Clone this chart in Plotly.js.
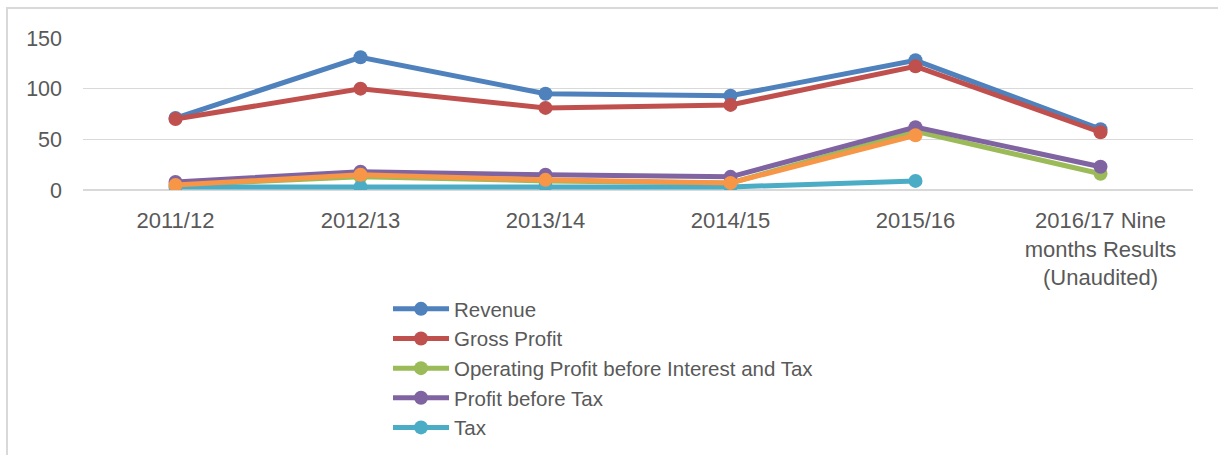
<!DOCTYPE html>
<html>
<head>
<meta charset="utf-8">
<script src="https://cdn.plot.ly/plotly-3.0.1.min.js"></script>
<style>html,body{margin:0;padding:0;background:#fff;}#chart{width:1218px;height:455px;}</style>
</head>
<body>
<div id="chart"></div>
<script>
var categories = ["2011/12", "2012/13", "2013/14", "2014/15", "2015/16", "2016/17 Nine<br>months Results<br>(Unaudited)"];
var revenue = [71, 131, 95, 93, 128, 60];
var grossProfit = [70, 100, 81, 84, 122, 57];
var operatingProfit = [5, 13, 9, 7, 58, 16];
var profitBeforeTax = [8, 18, 15, 13, 62, 23];
var tax = [3, 3, 4, 3, 9, null];
var profitAfterTax = [5, 15, 10, 7, 54, null];

var seriesNames = ["Revenue", "Gross Profit", "Operating Profit before Interest and Tax", "Profit before Tax", "Tax", "Profit after Tax"];
var seriesColors = ["#4F81BD", "#C0504D", "#9BBB59", "#8064A2", "#4BACC6", "#F79646"];
var seriesData = [revenue, grossProfit, operatingProfit, profitBeforeTax, tax, profitAfterTax];

var traces = seriesData.map(function (vals, i) {
  return {
    type: "scatter",
    mode: "lines+markers",
    x: categories,
    y: vals,
    name: seriesNames[i],
    showlegend: i < 5,
    line: {color: seriesColors[i], width: 5},
    marker: {color: seriesColors[i], size: 14},
    connectgaps: false
  };
});

var L = 83, R = 1193, T = 38, B = 190;
function px(x) { return (x - L) / (R - L); }
function py(y) { return (B - y) / (B - T); }

var layout = {
  width: 1218,
  height: 455,
  margin: {l: L, r: 1218 - R, t: T, b: 455 - B, pad: 0, autoexpand: false},
  paper_bgcolor: "#ffffff",
  plot_bgcolor: "#ffffff",
  font: {family: "Liberation Sans, Arial, sans-serif", size: 22, color: "#595959"},
  showlegend: true,
  xaxis: {
    type: "category",
    range: [-0.5, categories.length - 0.5],
    automargin: false,
    showgrid: false,
    showline: false,
    zeroline: false,
    ticks: "",
    tickfont: {size: 22, color: "#595959"},
    ticklabelstandoff: 15,
    fixedrange: true
  },
  yaxis: {
    range: [0, 150],
    automargin: false,
    dtick: 50,
    tick0: 0,
    showgrid: true,
    gridcolor: "#D9D9D9",
    gridwidth: 1.5,
    zeroline: true,
    zerolinecolor: "#D9D9D9",
    zerolinewidth: 1.5,
    showline: false,
    ticks: "",
    tickfont: {size: 21.5, color: "#595959"},
    ticklabelstandoff: 20,
    fixedrange: true
  },
  legend: {
    x: px(388),
    y: py(289),
    xanchor: "left",
    yanchor: "top",
    orientation: "v",
    traceorder: "normal",
    font: {size: 20.5, color: "#595959"},
    itemwidth: 56,
    bgcolor: "rgba(0,0,0,0)",
    tracegroupgap: 0
  },
  shapes: [{
    type: "path",
    xref: "paper",
    yref: "paper",
    path: "M " + px(7) + "," + py(470) + " L " + px(7) + "," + py(8) + " L " + px(1240) + "," + py(8),
    line: {color: "#D9D9D9", width: 2}
  }]
};

Plotly.newPlot("chart", traces, layout, {displayModeBar: false, staticPlot: true});
</script>
</body>
</html>
